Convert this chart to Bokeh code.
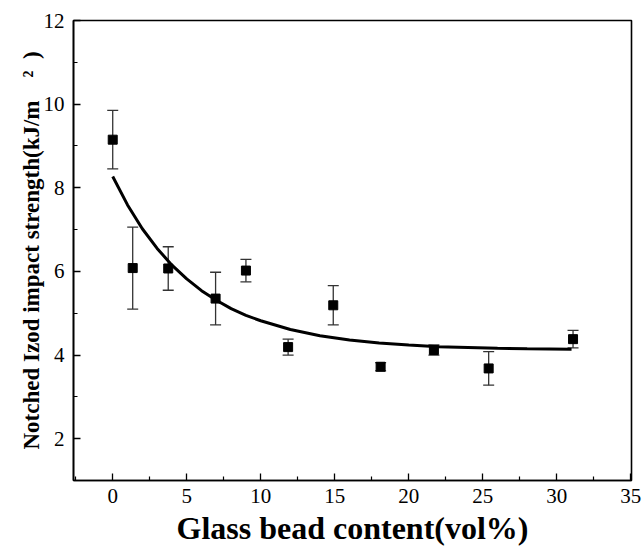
from bokeh.plotting import figure
from bokeh.models import ColumnDataSource, Whisker, TeeHead, FixedTicker, Range1d
from bokeh.embed import file_html
from bokeh.resources import INLINE

# Measured notched Izod impact strength versus glass bead loading
bead_content = [0.0, 1.35, 3.75, 6.95, 9.0, 11.85, 14.9, 18.1, 21.7, 25.4, 31.1]
impact_strength = [9.15, 6.08, 6.07, 5.35, 6.02, 4.19, 5.19, 3.72, 4.12, 3.68, 4.38]
strength_error = [0.70, 0.98, 0.52, 0.63, 0.27, 0.19, 0.47, 0.10, 0.12, 0.40, 0.21]

# Smooth decay trend drawn through the data
trend_x = [0, 1, 2, 3, 4, 5, 6, 7, 8, 9, 10, 12, 14, 16, 18, 20, 22, 24, 26, 28, 31]
trend_y = [8.27, 7.59, 7.02, 6.55, 6.15, 5.82, 5.54, 5.31, 5.11, 4.95, 4.82,
           4.61, 4.46, 4.36, 4.29, 4.24, 4.20, 4.18, 4.16, 4.15, 4.14]

x_ticks = [0, 5, 10, 15, 20, 25, 30, 35]
y_ticks = [2, 4, 6, 8, 10, 12]

FONT = "'Liberation Serif', 'Times New Roman', 'DejaVu Serif', serif"
NBSP = "\u00a0"

p = figure(width=643, height=554, output_backend="svg", toolbar_location=None,
           x_range=Range1d(-2.65, 35.05), y_range=Range1d(1, 12),
           min_border_left=73, min_border_right=12,
           min_border_top=20, min_border_bottom=74)
p.background_fill_color = "white"
p.border_fill_color = "white"
p.grid.visible = False
p.outline_line_color = "black"
p.outline_line_width = 1.6

for ax in (p.xaxis[0], p.yaxis[0]):
    ax.axis_line_width = 1.6
    ax.axis_line_color = "black"
    ax.major_tick_in = 7
    ax.major_tick_out = 0
    ax.minor_tick_in = 4
    ax.minor_tick_out = 0
    ax.major_tick_line_width = 1.3
    ax.minor_tick_line_width = 1.2
    ax.major_label_text_font = FONT
    ax.major_label_text_font_size = "21px"
    ax.major_label_text_color = "black"
    ax.axis_label_text_font = FONT
    ax.axis_label_text_font_style = "bold"
    ax.axis_label_text_color = "black"

p.xaxis.ticker = FixedTicker(ticks=x_ticks, minor_ticks=[t + 2.5 for t in x_ticks] + [-2.5])
p.yaxis.ticker = FixedTicker(ticks=y_ticks, minor_ticks=[t + 1 for t in y_ticks])
p.xaxis.major_label_standoff = 8
p.yaxis.major_label_standoff = 9

p.xaxis.axis_label = "Glass bead content(vol%)"
p.xaxis.axis_label_text_font_size = "32px"
p.xaxis.axis_label_standoff = 4

p.yaxis.axis_label = "Notched Izod impact strength(kJ/m" + NBSP * 4 + "\u00b2" + NBSP * 2 + ")"
p.yaxis.axis_label_text_font_size = "23px"
p.yaxis.axis_label_standoff = -3

src = ColumnDataSource(dict(
    x=bead_content,
    y=impact_strength,
    upper=[v + e for v, e in zip(impact_strength, strength_error)],
    lower=[v - e for v, e in zip(impact_strength, strength_error)],
))

p.line(trend_x, trend_y, line_color="black", line_width=3)

whisk = Whisker(base="x", upper="upper", lower="lower", source=src,
                line_color="#333333", line_width=1.3,
                upper_head=TeeHead(size=11, line_color="#333333", line_width=1.3),
                lower_head=TeeHead(size=11, line_color="#333333", line_width=1.3))
p.add_layout(whisk)

p.scatter("x", "y", source=src, marker="square", size=9,
          fill_color="black", line_color="black")

open("out.html", "w").write(file_html(p, INLINE))
